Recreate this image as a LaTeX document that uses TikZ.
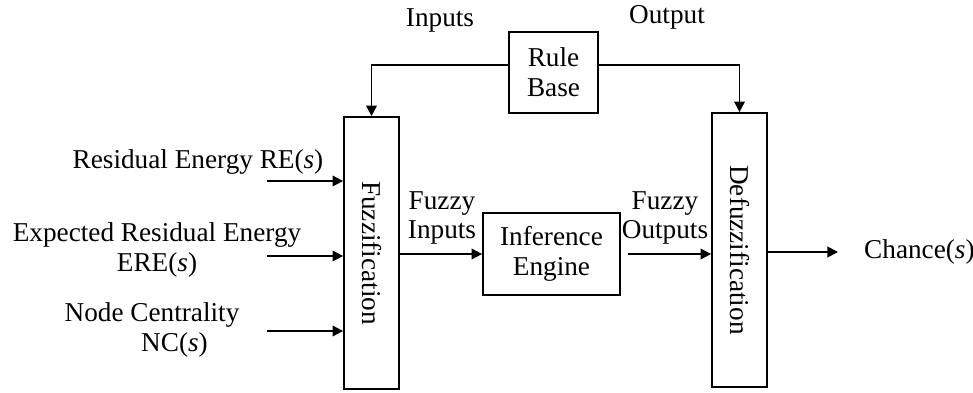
\documentclass[tikz,border=0pt]{standalone}
\usepackage{fontspec}
\setmainfont{Liberation Serif}
\usetikzlibrary{arrows.meta, positioning}

\begin{document}
\begin{tikzpicture}[x=0.02cm, y=-0.02cm,
  every node/.style={font=\fontsize{15.5}{17}\selectfont},
  blk/.style={draw, line width=1pt, inner sep=0pt},
  arr/.style={line width=1pt, -{Triangle[length=6pt,width=6pt]}}]
\useasboundingbox (0,0) rectangle (973,392);
\node[blk, minimum width=1.1cm, minimum height=5.44cm] (fuzz) at (371.5,253) {\rotatebox{-90}{Fuzzification}};
\node[blk, minimum width=1.1cm, minimum height=5.48cm] (defuzz) at (739.5,250) {\rotatebox{-90}{Defuzzification}};
\node[blk, minimum width=1.78cm, minimum height=1.62cm, align=center] (rule) at (553.5,72.5) {Rule\\Base};
\node[blk, minimum width=2.74cm, minimum height=1.64cm, align=center] (infer) at (551.5,254) {Inference\\Engine};
\node (inlbl) at (440,20) {Inputs};
\node (outlbl) at (667,17) {Output};
\node[align=center] (fzin) at (442,218) {Fuzzy\\Inputs};
\node[align=center] (fzout) at (665,218) {Fuzzy\\Outputs};
\node (re) at (198,162) {Residual Energy RE(\textit{s})};
\node[align=center] (ere) at (157,250) {Expected Residual Energy\\ERE(\textit{s})};
\node[align=center] (nc) at (152,330) {Node Centrality\\\hspace*{0.9cm}NC(\textit{s})};
\node[anchor=west] (chance) at (858,252) {Chance(\textit{s})};
\coordinate (rein) at (267,181);
\coordinate (erein) at (267,256);
\coordinate (ncin) at (267,331);
\draw[arr] ([yshift=0.15cm]rule.west) -| (fuzz.north);
\draw[arr] ([yshift=0.15cm]rule.east) -| (defuzz.north);
\draw[arr] (rein) -- (rein -| fuzz.west);
\draw[arr] (erein) -- (erein -| fuzz.west);
\draw[arr] (ncin) -- (ncin -| fuzz.west);
\draw[arr] (infer.west -| fuzz.east) -- (infer.west);
\draw[arr, shorten <=0.14cm] (infer.east) -- (infer.east -| defuzz.west);
\draw[arr, shorten >=0.4cm] (chance.west -| defuzz.east) -- (chance.west);
\end{tikzpicture}
\end{document}
